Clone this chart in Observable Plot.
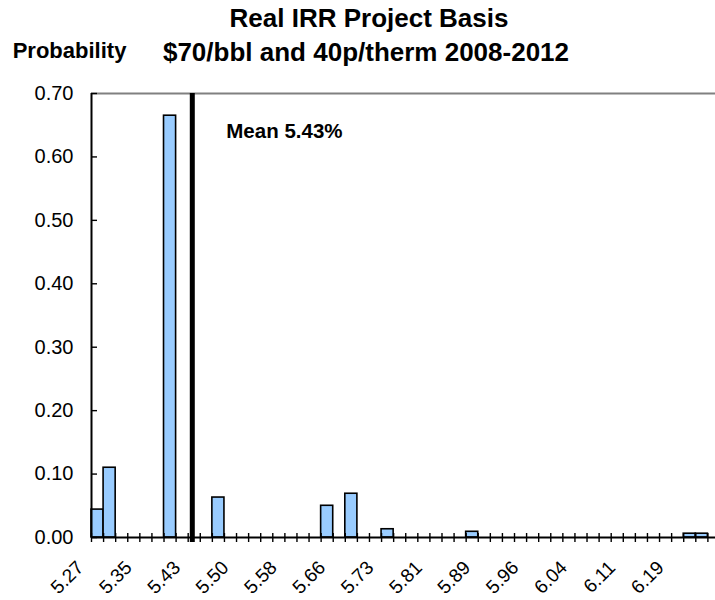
<!DOCTYPE html>
<html>
<head>
<meta charset="utf-8">
<script src="https://cdn.jsdelivr.net/npm/d3@7"></script>
<script src="https://cdn.jsdelivr.net/npm/@observablehq/plot@0.6"></script>
<style>
  body { margin: 0; background: #fff; }
  #chart { position: relative; width: 715px; height: 600px; }
</style>
</head>
<body>
<div id="chart"></div>
<script>
// ---- data ----
// probability per IRR bin (51 bins, left to right)
const probability = [
  0.044, 0.110, 0, 0, 0, 0, 0.665, 0, 0, 0,
  0.063, 0, 0, 0, 0, 0, 0, 0, 0, 0.050,
  0, 0.069, 0, 0, 0.013, 0, 0, 0, 0, 0,
  0, 0.009, 0, 0, 0, 0, 0, 0, 0, 0,
  0, 0, 0, 0, 0, 0, 0, 0, 0, 0.006,
  0.006
];
// category-axis labels, shown every 4th bin boundary
const tickLabels = ["5.27","5.35","5.43","5.50","5.58","5.66","5.73","5.81","5.89","5.96","6.04","6.11","6.19"];
const labelInterval = 4;
const labelOffset = -1;
const yTicks = [0, 0.1, 0.2, 0.3, 0.4, 0.5, 0.6, 0.7];
const meanLabel = "Mean 5.43%";
const meanPosition = 8.34; // position of the mean line along the bin axis
const titleText = "Real IRR Project Basis";
const subtitleText = "$70/bbl and 40p/therm 2008-2012";
const yAxisTitle = "Probability";

// ---- derived tables ----
const bins = probability.map((p, i) => ({i, p})).filter(d => d.p > 0);
const boundaries = d3.range(probability.length + 1);
const xLabels = tickLabels.map((label, k) => ({label, pos: labelInterval * k + labelOffset}));

const font = "'Liberation Sans', Arial, sans-serif";

const chart = Plot.plot({
  width: 715,
  height: 600,
  marginTop: 93,
  marginBottom: 63,
  marginLeft: 91,
  marginRight: 0,
  x: {domain: [0, 51.63], axis: null},
  y: {domain: [0, 0.7], axis: null},
  style: {fontFamily: font, background: "white", color: "black", overflow: "visible"},
  marks: [
    Plot.ruleY([0.7], {stroke: "#808080", strokeWidth: 2}),
    Plot.rectY(bins, {x1: "i", x2: d => d.i + 1, y: "p", fill: "#99CCFF", stroke: "black", strokeWidth: 1.6}),
    Plot.ruleX(boundaries, {y1: 0, y2: 0, insetTop: -4, insetBottom: -5, stroke: "black", strokeWidth: 1.4}),
    Plot.ruleY([0], {stroke: "black", strokeWidth: 2}),
    Plot.ruleX([0], {y1: 0.7, y2: 0, stroke: "black", strokeWidth: 2}),
    Plot.ruleY(yTicks, {x1: 0, x2: 0, insetRight: -6, stroke: "black", strokeWidth: 1.4}),
    Plot.text(yTicks, {x: 0, y: d => d, text: d => d3.format(".2f")(d), textAnchor: "end", dx: -18, fontSize: 20, fill: "black"}),
    Plot.text(xLabels, {x: "pos", y: 0, text: "label", rotate: -45, textAnchor: "end", dx: 1, dy: 27, fontSize: 19, fill: "black"}),
    Plot.ruleX([meanPosition], {y1: 0.7, y2: 0, insetBottom: -5, stroke: "black", strokeWidth: 5}),
    Plot.text([meanLabel], {x: meanPosition, y: 0.7, text: d => d, textAnchor: "start", dx: 34, dy: 38, fontSize: 20.5, fontWeight: "bold", fill: "black"})
  ]
});

document.getElementById("chart").appendChild(chart);

const svg = d3.select(chart);
svg.append("text").attr("x", 369).attr("y", 26.7).attr("text-anchor", "middle")
  .attr("font-family", font).attr("font-size", 26).attr("font-weight", "bold").attr("fill", "black").text(titleText);
svg.append("text").attr("x", 366).attr("y", 60.7).attr("text-anchor", "middle")
  .attr("font-family", font).attr("font-size", 26).attr("font-weight", "bold").attr("fill", "black").text(subtitleText);
svg.append("text").attr("x", 12.7).attr("y", 58.3).attr("text-anchor", "start")
  .attr("font-family", font).attr("font-size", 22).attr("font-weight", "bold").attr("fill", "black").text(yAxisTitle);
</script>
</body>
</html>
